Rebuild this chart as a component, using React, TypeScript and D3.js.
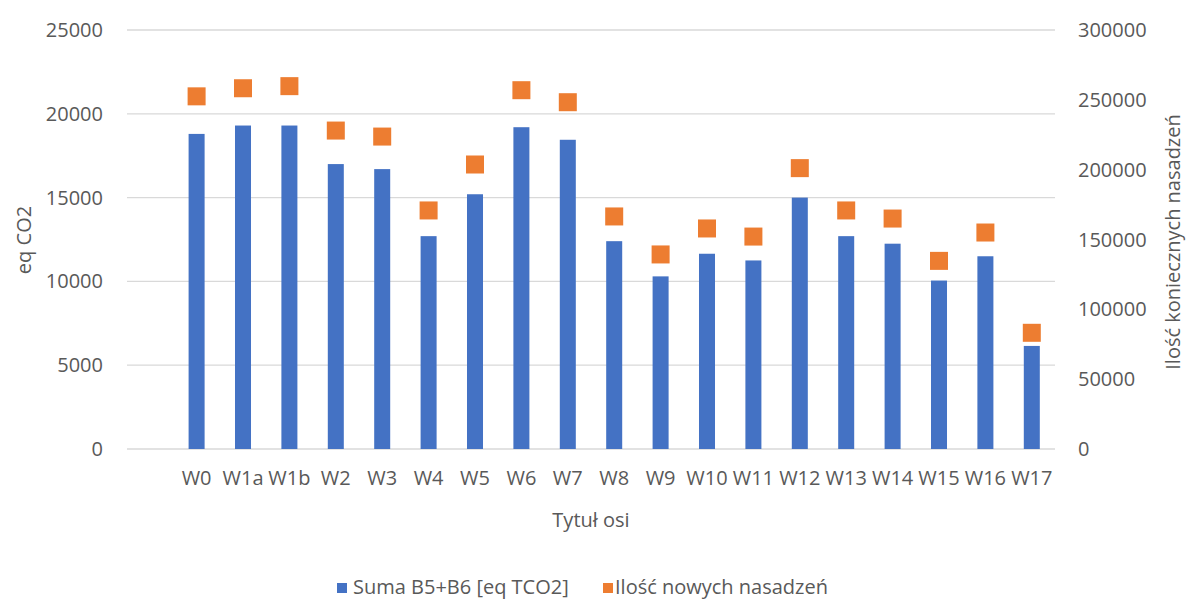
import React from "react";
import * as d3 from "d3";

const categories = ["W0","W1a","W1b","W2","W3","W4","W5","W6","W7","W8","W9","W10","W11","W12","W13","W14","W15","W16","W17"];
const sumaB5B6 = [18800,19300,19300,17000,16700,12700,15200,19200,18450,12400,10300,11650,11250,15000,12700,12250,10050,11500,6150];
const nasadzenia = [252500,258300,259800,228000,223700,170800,203700,256900,248300,166500,139300,157900,152100,201100,170800,165000,134700,155000,83200];
const leftTicks = [0,5000,10000,15000,20000,25000];
const rightTicks = [0,50000,100000,150000,200000,250000,300000];

const W = 1188, H = 599;
const plotLeft = 127, plotRight = 1055, plotTop = 30, plotBottom = 449;
const FONT = "'Open Sans', sans-serif";
const TXT = "#595959";
const FS = 20;

export default function App() {
  const step = (plotRight - plotLeft) / (categories.length + 1);
  const x = d3.scaleBand<string>().domain(categories).range([plotLeft + step, plotRight]).paddingInner(0.655).paddingOuter(0.3275);
  const yL = d3.scaleLinear().domain([0, 25000]).range([plotBottom, plotTop]);
  const yR = d3.scaleLinear().domain([0, 300000]).range([plotBottom, plotTop]);
  const ms = 18;
  return (
    <div style={{ position: "absolute", left: 0, top: 0 }}>
      <svg width={W} height={H} style={{ display: "block", background: "#fff" }}>
        {leftTicks.map(t => (
          <line key={"g" + t} x1={plotLeft} x2={plotRight} y1={yL(t)} y2={yL(t)} stroke="#d9d9d9" strokeWidth={1.3} />
        ))}
        {leftTicks.map(t => (
          <text key={"l" + t} x={103} y={yL(t)} dy="0.35em" textAnchor="end" fontFamily={FONT} fontSize={FS} fill={TXT}>{t}</text>
        ))}
        {rightTicks.map(t => (
          <text key={"r" + t} x={1078} y={yR(t)} dy="0.35em" textAnchor="start" fontFamily={FONT} fontSize={FS} fill={TXT}>{t}</text>
        ))}
        {categories.map((c, i) => (
          <rect key={"b" + c} x={x(c)} width={x.bandwidth()} y={yL(sumaB5B6[i])} height={plotBottom - yL(sumaB5B6[i])} fill="#4472C4" />
        ))}
        {categories.map((c, i) => (
          <rect key={"m" + c} x={(x(c) as number) + x.bandwidth() / 2 - ms / 2} y={yR(nasadzenia[i]) - ms / 2} width={ms} height={ms} fill="#ED7D31" />
        ))}
        {categories.map(c => (
          <text key={"x" + c} x={(x(c) as number) + x.bandwidth() / 2} y={478} dy="0.35em" textAnchor="middle" fontFamily={FONT} fontSize={FS} fill={TXT}>{c}</text>
        ))}
        <text x={(plotLeft + plotRight) / 2} y={520} dy="0.35em" textAnchor="middle" fontFamily={FONT} fontSize={FS} fill={TXT}>Tytuł osi</text>
        <text transform={`translate(24,240) rotate(-90)`} dy="0.35em" textAnchor="middle" fontFamily={FONT} fontSize={FS} fill={TXT}>eq CO2</text>
        <text transform={`translate(1173,242) rotate(-90)`} dy="0.35em" textAnchor="middle" fontFamily={FONT} fontSize={FS} fill={TXT}>Ilość koniecznych nasadzeń</text>
        <rect x={337} y={583} width={10} height={10} fill="#4472C4" />
        <text x={353} y={587} dy="0.35em" fontFamily={FONT} fontSize={FS} fill={TXT}>Suma B5+B6 [eq TCO2]</text>
        <rect x={603} y={583} width={10} height={10} fill="#ED7D31" />
        <text x={615} y={587} dy="0.35em" fontFamily={FONT} fontSize={FS} fill={TXT}>Ilość nowych nasadzeń</text>
      </svg>
    </div>
  );
}
